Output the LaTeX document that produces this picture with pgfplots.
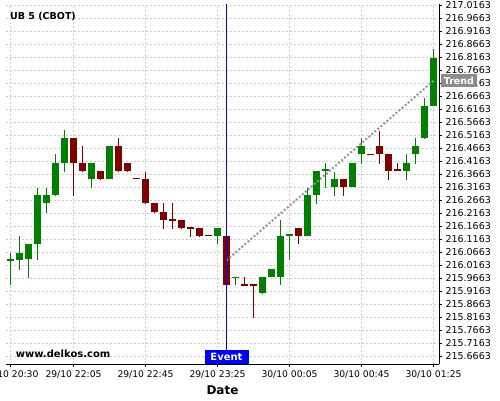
\documentclass[border=0pt]{standalone}
\usepackage{pgfplots}
\usepackage{pgfplotstable}
\pgfplotsset{compat=1.18}
\usepackage{fontspec}
\setmainfont{DejaVu Sans}
\definecolor{cgreen}{RGB}{0,128,0}
\definecolor{cred}{RGB}{128,0,0}
\definecolor{gridc}{RGB}{204,204,204}
\definecolor{trendc}{RGB}{150,150,150}
\definecolor{trendbox}{RGB}{140,140,140}
\definecolor{evblue}{RGB}{0,0,255}

\pgfplotstableread{
x o h l c
0 216.038 216.062 215.939 216.038
1 216.038 216.128 216.000 216.066
2 216.038 216.097 215.970 216.097
3 216.098 216.314 216.036 216.285
4 216.256 216.314 216.219 216.285
5 216.285 216.442 216.282 216.409
6 216.409 216.534 216.375 216.505
9 216.347 216.409 216.314 216.409
11 216.347 216.474 216.347 216.474
23 216.128 216.159 216.097 216.159
25 215.971 215.971 215.939 215.971
28 215.910 215.970 215.907 215.970
29 215.970 216.001 215.970 216.001
30 215.970 216.189 215.939 216.128
31 216.132 216.132 216.036 216.132
33 216.128 216.311 216.128 216.285
34 216.285 216.378 216.254 216.378
35 216.382 216.408 216.315 216.382
36 216.316 216.375 216.283 216.347
38 216.316 216.409 216.316 216.409
39 216.443 216.504 216.407 216.474
44 216.379 216.442 216.346 216.409
45 216.443 216.504 216.407 216.474
46 216.506 216.660 216.501 216.628
47 216.629 216.846 216.629 216.815
}\greenT

\pgfplotstableread{
x o h l c
7 216.505 216.505 216.282 216.409
8 216.409 216.474 216.374 216.378
10 216.378 216.378 216.344 216.347
12 216.474 216.504 216.374 216.378
13 216.409 216.409 216.375 216.378
14 216.350 216.350 216.350 216.350
15 216.347 216.375 216.254 216.256
16 216.255 216.255 216.216 216.220
17 216.220 216.254 216.156 216.189
18 216.193 216.254 216.156 216.190
19 216.189 216.189 216.156 216.160
20 216.161 216.161 216.125 216.161
21 216.159 216.159 216.126 216.128
22 216.131 216.131 216.131 216.131
24 216.128 216.128 215.941 215.941
26 215.942 215.969 215.942 215.942
27 215.942 215.942 215.814 215.942
32 216.158 216.158 216.096 216.128
37 216.347 216.347 216.283 216.316
40 216.444 216.444 216.444 216.444
41 216.474 216.533 216.407 216.443
42 216.443 216.443 216.346 216.379
43 216.382 216.408 216.382 216.382
}\redT

\begin{document}
\begin{tikzpicture}
\path[use as bounding box] (0,0) rectangle (500pt,400pt);
\begin{axis}[
  at={(6pt,36pt)}, anchor=south west,
  scale only axis, width=433pt, height=360pt,
  xmin=-0.5, xmax=47.61,
  ymin=215.6355, ymax=217.0201,
  axis x line*=bottom, axis y line*=right,
  axis line style={black, line width=0.8pt},
  tick align=outside, major tick length=3pt,
  tick style={black, line width=0.6pt},
  xtick={0,7,15,23,31,39,47},
  xticklabels={29/10 20:30,29/10 22:05,29/10 22:45,29/10 23:25,30/10 00:05,30/10 00:45,30/10 01:25},
  ytick={215.6663,215.7163,215.7663,215.8163,215.8663,215.9163,215.9663,216.0163,216.0663,216.1163,216.1663,216.2163,216.2663,216.3163,216.3663,216.4163,216.4663,216.5163,216.5663,216.6163,216.6663,216.7163,216.7663,216.8163,216.8663,216.9163,216.9663,217.0163},
  scaled y ticks=false,
  /pgf/number format/assume math mode=true,
  yticklabel style={font=\fontsize{9.5}{10}\selectfont, /pgf/number format/.cd, fixed, fixed zerofill, precision=4, 1000 sep={}},
  xticklabel style={font=\fontsize{9.2}{10}\selectfont},
  grid=major,
  major grid style={gridc, dash pattern=on 2pt off 2pt, line width=0.6pt},
  xlabel={Date},
  xlabel style={font=\bfseries\fontsize{12}{13}\selectfont, at={(axis description cs:0.5,0)}, anchor=base, yshift=-30pt},
  clip mode=individual,
]
% wicks
\addplot[draw=none, mark=none, forget plot,
  error bars/.cd, y dir=both, y explicit, error mark=none,
  error bar style={draw=cgreen, line width=1pt}]
  table[x=x, y expr={(\thisrow{h}+\thisrow{l})/2}, y error expr={(\thisrow{h}-\thisrow{l})/2+0.0005}] {\greenT};
\addplot[draw=none, mark=none, forget plot,
  error bars/.cd, y dir=both, y explicit, error mark=none,
  error bar style={draw=cred, line width=1pt}]
  table[x=x, y expr={(\thisrow{h}+\thisrow{l})/2}, y error expr={(\thisrow{h}-\thisrow{l})/2+0.0005}] {\redT};
% bodies
\addplot[draw=none, mark=none, forget plot,
  error bars/.cd, y dir=both, y explicit, error mark=none,
  error bar style={draw=cgreen, line width=7pt}]
  table[x=x, y expr={(\thisrow{o}+\thisrow{c})/2}, y error expr={max(abs(\thisrow{c}-\thisrow{o})/2,0.0019)}] {\greenT};
\addplot[draw=none, mark=none, forget plot,
  error bars/.cd, y dir=both, y explicit, error mark=none,
  error bar style={draw=cred, line width=7pt}]
  table[x=x, y expr={(\thisrow{o}+\thisrow{c})/2}, y error expr={max(abs(\thisrow{c}-\thisrow{o})/2,0.0019)}] {\redT};
% trend line
\addplot[trendc, line width=2pt, dash pattern=on 2pt off 2pt] coordinates {(24,216.034) (47,216.725)};
% event line
\addplot[evblue, line width=0.9pt] coordinates {(24,215.6355) (24,217.0201)};
\node[fill=evblue, text=white, font=\bfseries\fontsize{10}{11}\selectfont, minimum width=44pt, minimum height=14pt, inner sep=0pt, anchor=south] at (axis cs:24,215.6355) {Event};
\node[anchor=base west, font=\bfseries\fontsize{9.5}{10}\selectfont, inner sep=0pt] at ([xshift=4pt,yshift=-15pt]axis description cs:0,1) {UB 5 (CBOT)};
\node[anchor=base west, font=\bfseries\fontsize{10}{11}\selectfont, inner sep=0pt] at ([xshift=9.7pt,yshift=6.7pt]axis description cs:0,0) {www.delkos.com};
\coordinate (trendpt) at (axis cs:47.61,216.725);
\end{axis}
\node[fill=trendbox, text=white, font=\bfseries\fontsize{9.5}{10}\selectfont, minimum width=36pt, minimum height=13.3pt, inner sep=0pt, anchor=west] at ([xshift=1.7pt]trendpt) {Trend};
\end{tikzpicture}
\end{document}
